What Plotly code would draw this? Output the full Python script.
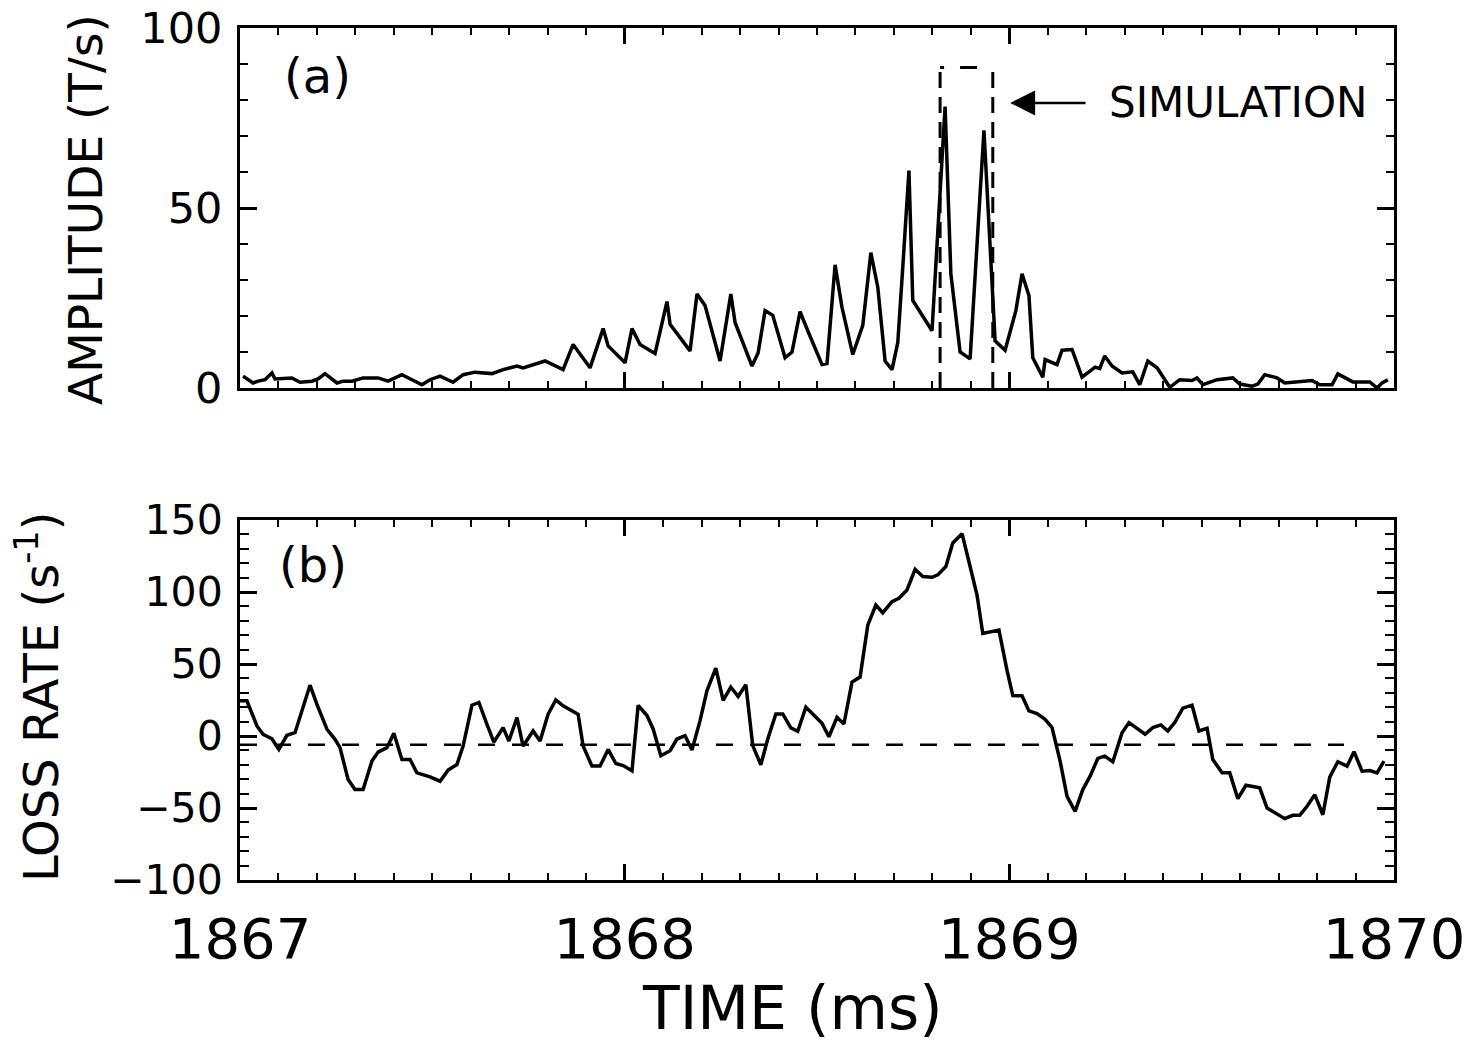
import plotly.graph_objects as go

# ---------------- data ----------------
TIME_A = [1867.008, 1867.034, 1867.047, 1867.065, 1867.083, 1867.091, 1867.135, 1867.156,
          1867.187, 1867.203, 1867.221, 1867.252, 1867.268, 1867.291, 1867.320, 1867.359,
          1867.385, 1867.421, 1867.447, 1867.473, 1867.494, 1867.520, 1867.554, 1867.580,
          1867.611, 1867.655, 1867.684, 1867.720, 1867.736, 1867.762, 1867.793, 1867.840,
          1867.866, 1867.910, 1867.944, 1867.957, 1868.001, 1868.019, 1868.040, 1868.079,
          1868.110, 1868.118, 1868.170, 1868.188, 1868.209, 1868.248, 1868.276, 1868.287,
          1868.331, 1868.347, 1868.365, 1868.385, 1868.417, 1868.435, 1868.456, 1868.476,
          1868.513, 1868.526, 1868.547, 1868.565, 1868.593, 1868.619, 1868.640, 1868.658,
          1868.677, 1868.695, 1868.710, 1868.723, 1868.739, 1868.749, 1868.799, 1868.833,
          1868.848, 1868.872, 1868.898, 1868.934, 1868.963, 1868.989, 1869.017, 1869.033,
          1869.051, 1869.061, 1869.087, 1869.093, 1869.124, 1869.137, 1869.163, 1869.189,
          1869.223, 1869.235, 1869.248, 1869.267, 1869.293, 1869.321, 1869.339, 1869.360,
          1869.384, 1869.417, 1869.443, 1869.475, 1869.488, 1869.503, 1869.540, 1869.581,
          1869.599, 1869.631, 1869.646, 1869.664, 1869.696, 1869.716, 1869.755, 1869.787,
          1869.807, 1869.839, 1869.854, 1869.893, 1869.937, 1869.956, 1869.969, 1869.984]
AMP_A = [3.3, 1.4, 1.9, 2.3, 4.2, 2.5, 2.8, 1.6,
         1.9, 2.5, 4.0, 1.4, 1.9, 1.9, 2.8, 2.8,
         1.9, 3.7, 2.3, 0.9, 2.3, 3.3, 1.6, 3.7,
         4.4, 4.0, 5.1, 6.1, 5.6, 6.5, 7.5, 5.1,
         12.1, 5.6, 16.5, 11.7, 7.0, 16.5, 12.1, 9.6,
         24.0, 17.7, 10.3, 26.1, 22.9, 7.5, 26.1, 18.2,
         6.1, 9.8, 21.5, 20.2, 8.4, 10.0, 21.2, 15.9,
         6.5, 6.8, 34.2, 22.4, 9.3, 17.4, 37.6, 28.0,
         7.5, 5.1, 12.6, 33.6, 60.4, 24.3, 15.9, 78.2,
         31.7, 10.0, 8.1, 71.6, 13.1, 10.5, 21.5, 31.7,
         25.7, 8.4, 3.0, 7.9, 6.5, 10.5, 10.7, 3.0,
         5.8, 5.4, 8.9, 6.1, 4.2, 4.5, 0.9, 7.5,
         5.6, 0.2, 2.3, 2.1, 2.8, 0.9, 2.3, 2.8,
         1.1, 0.5, 1.1, 3.7, 2.8, 1.4, 1.9, 2.1,
         0.9, 0.9, 3.9, 1.7, 1.7, 0.0, 1.4, 2.3]

TIME_B = [1867.000, 1867.018, 1867.044, 1867.060, 1867.083, 1867.101, 1867.122, 1867.143,
          1867.182, 1867.200, 1867.226, 1867.247, 1867.260, 1867.281, 1867.299, 1867.320,
          1867.343, 1867.359, 1867.382, 1867.400, 1867.421, 1867.442, 1867.460, 1867.494,
          1867.520, 1867.541, 1867.564, 1867.580, 1867.603, 1867.621, 1867.642, 1867.660,
          1867.684, 1867.699, 1867.720, 1867.736, 1867.762, 1867.780, 1867.801, 1867.821,
          1867.840, 1867.879, 1867.892, 1867.915, 1867.936, 1867.957, 1867.977, 1867.996,
          1868.019, 1868.035, 1868.058, 1868.074, 1868.094, 1868.118, 1868.136, 1868.157,
          1868.175, 1868.196, 1868.214, 1868.237, 1868.256, 1868.276, 1868.295, 1868.315,
          1868.333, 1868.354, 1868.372, 1868.393, 1868.411, 1868.432, 1868.450, 1868.471,
          1868.489, 1868.513, 1868.531, 1868.552, 1868.570, 1868.591, 1868.612, 1868.632,
          1868.653, 1868.671, 1868.695, 1868.713, 1868.734, 1868.755, 1868.775, 1868.799,
          1868.814, 1868.835, 1868.853, 1868.877, 1868.898, 1868.916, 1868.931, 1868.952,
          1868.973, 1868.994, 1869.009, 1869.033, 1869.051, 1869.072, 1869.093, 1869.111,
          1869.132, 1869.150, 1869.171, 1869.191, 1869.210, 1869.230, 1869.248, 1869.269,
          1869.293, 1869.311, 1869.332, 1869.353, 1869.373, 1869.394, 1869.412, 1869.430,
          1869.451, 1869.475, 1869.493, 1869.514, 1869.529, 1869.553, 1869.573, 1869.594,
          1869.615, 1869.651, 1869.670, 1869.696, 1869.716, 1869.737, 1869.755, 1869.774,
          1869.794, 1869.815, 1869.833, 1869.854, 1869.878, 1869.896, 1869.917, 1869.937,
          1869.956, 1869.974]
LOSS_B = [24.4, 24.4, 7.0, 1.2, -1.9, -9.3, 0.5, 2.3,
          35.3, 22.0, 4.7, -2.3, -8.1, -30.2, -37.2, -37.2,
          -17.4, -11.2, -8.1, 1.9, -16.3, -16.3, -25.6, -28.4,
          -31.4, -23.7, -19.8, -7.0, 21.4, 23.3, 8.1, -4.2,
          5.8, -3.5, 12.8, -7.0, 3.5, -3.5, 15.1, 25.1,
          20.9, 15.1, -7.0, -20.9, -20.9, -9.3, -19.1, -20.5,
          -24.2, 21.2, 14.2, 4.9, -13.7, -10.2, -2.1, 0.2,
          -9.8, 10.7, 31.6, 47.2, 24.7, 34.0, 27.4, 35.6,
          -6.7, -20.0, -2.1, 15.3, 15.3, 5.6, 3.3, 20.0,
          15.3, 8.8, -0.5, 13.0, 8.4, 37.4, 40.9, 77.0,
          90.9, 85.6, 93.3, 95.6, 101.4, 115.8, 110.7, 110.2,
          111.9, 117.7, 134.0, 140.5, 117.7, 97.9, 71.2, 72.3,
          73.5, 45.6, 28.1, 27.9, 17.4, 15.6, 11.6, 5.8,
          -17.4, -41.9, -52.3, -37.2, -27.9, -15.6, -14.0, -17.9,
          2.3, 9.3, 5.3, 1.2, 5.8, 7.7, 3.5, 9.3,
          19.3, 21.4, 3.5, 5.3, -16.3, -25.6, -25.6, -43.5,
          -34.2, -36.0, -50.0, -54.2, -57.4, -55.1, -55.1, -48.8,
          -40.7, -54.7, -28.6, -17.9, -20.9, -10.9, -24.4, -24.0,
          -25.6, -17.4]

X_TICKS = [1867, 1868, 1869, 1870]
X_RANGE = [1867, 1870]
Y_RANGE_A = [0, 100]
Y_RANGE_B = [-100, 150]
SIM_START, SIM_END, SIM_TOP = 1868.820, 1868.957, 89.0
ARROW_TIP, ARROW_TAIL, ARROW_Y = 1869.002, 1869.202, 79.2
LABEL_X = 1869.254
DASH_LEVEL = -6.0
DASH_END = 1869.87

# ---------------- layout geometry (px) ----------------
W, H = 1464, 1050
ML, MR, MT, MB = 240, 70, 28, 170
PW, PH = W - ML - MR, H - MT - MB


def px_x(p):
    return (p - ML) / PW


def px_y(p):
    return (H - MB - p) / PH


FONT = "DejaVu Sans, Liberation Sans, Arial, sans-serif"
BLACK = "black"

fig = go.Figure()
fig.add_trace(go.Scatter(x=TIME_A, y=AMP_A, mode="lines", xaxis="x", yaxis="y",
                         line=dict(color=BLACK, width=3.5), showlegend=False,
                         hoverinfo="skip"))
fig.add_trace(go.Scatter(x=TIME_B, y=LOSS_B, mode="lines", xaxis="x2", yaxis="y2",
                         line=dict(color=BLACK, width=3.5), showlegend=False,
                         hoverinfo="skip"))

common_x = dict(range=X_RANGE, tickmode="array", tickvals=X_TICKS, automargin=False,
                ticks="inside", ticklen=16, tickwidth=2.5, tickcolor=BLACK,
                showline=True, linewidth=3, linecolor=BLACK, mirror="allticks",
                showgrid=False, zeroline=False,
                minor=dict(dtick=0.1, tick0=1867, ticks="inside", ticklen=7,
                           tickwidth=2, tickcolor=BLACK, showgrid=False))

fig.update_layout(
    width=W, height=H,
    margin=dict(l=ML, r=MR, t=MT, b=MB, autoexpand=False),
    paper_bgcolor="white", plot_bgcolor="white",
    font=dict(family=FONT, color=BLACK),
    xaxis=dict(domain=[0, 1], anchor="y", showticklabels=False, **common_x),
    yaxis=dict(domain=[px_y(388), 1], anchor="x", range=Y_RANGE_A, automargin=False,
               tickmode="linear", tick0=0, dtick=50,
               ticks="inside", ticklen=17, tickwidth=2.5, tickcolor=BLACK,
               showline=True, linewidth=3, linecolor=BLACK, mirror="allticks",
               showgrid=False, zeroline=False,
               tickfont=dict(size=43, family=FONT), ticklabelstandoff=6,
               minor=dict(dtick=10, tick0=0, ticks="inside", ticklen=8,
                          tickwidth=2, tickcolor=BLACK, showgrid=False)),
    xaxis2=dict(domain=[0, 1], anchor="y2", showticklabels=True,
                tickfont=dict(size=56, family=FONT), ticklabelstandoff=8,
                ticklabeloverflow="allow", **common_x),
    yaxis2=dict(domain=[0, px_y(520)], anchor="x2", range=Y_RANGE_B, automargin=False,
                tickmode="linear", tick0=0, dtick=50,
                ticks="inside", ticklen=17, tickwidth=2.5, tickcolor=BLACK,
                showline=True, linewidth=3, linecolor=BLACK, mirror="allticks",
                showgrid=False, zeroline=False,
                tickfont=dict(size=41, family=FONT), ticklabelstandoff=6,
                minor=dict(dtick=10, tick0=0, ticks="inside", ticklen=9,
                           tickwidth=2, tickcolor=BLACK, showgrid=False)),
)

# dashed simulation window (top panel)
box_line = dict(color=BLACK, width=3, dash="16px,9px")
fig.add_shape(type="line", xref="x", yref="y", x0=SIM_START, x1=SIM_START,
              y0=Y_RANGE_A[0], y1=SIM_TOP, line=box_line)
fig.add_shape(type="line", xref="x", yref="y", x0=SIM_END, x1=SIM_END,
              y0=Y_RANGE_A[0], y1=SIM_TOP, line=box_line)
fig.add_shape(type="line", xref="x", yref="y", x0=SIM_START, x1=SIM_END,
              y0=SIM_TOP, y1=SIM_TOP, line=dict(color=BLACK, width=3, dash="4px,16px,17px,18px"))

# dashed reference line (bottom panel)
fig.add_shape(type="line", xref="x2", yref="y2", x0=X_RANGE[0], x1=DASH_END,
              y0=DASH_LEVEL, y1=DASH_LEVEL,
              line=dict(color=BLACK, width=2.5, dash="17px,17px"))

# arrow + SIMULATION label
fig.add_annotation(x=ARROW_TIP, y=ARROW_Y, ax=ARROW_TAIL, ay=ARROW_Y,
                   xref="x", yref="y", axref="x", ayref="y", text="",
                   showarrow=True, arrowhead=2, arrowsize=2.0, arrowwidth=2.5,
                   arrowcolor=BLACK, standoff=0, startstandoff=0)
fig.add_annotation(x=LABEL_X, y=ARROW_Y, xref="x", yref="y", text="SIMULATION",
                   showarrow=False, xanchor="left", yanchor="middle",
                   font=dict(size=42, family=FONT, color=BLACK))

# panel labels
fig.add_annotation(x=px_x(317), y=px_y(76), xref="paper", yref="paper", text="(a)",
                   showarrow=False, xanchor="center", yanchor="middle",
                   font=dict(size=48, family=FONT, color=BLACK))
fig.add_annotation(x=px_x(313), y=px_y(565), xref="paper", yref="paper", text="(b)",
                   showarrow=False, xanchor="center", yanchor="middle",
                   font=dict(size=48, family=FONT, color=BLACK))

# axis titles
fig.add_annotation(x=px_x(86), y=px_y(210), xref="paper", yref="paper",
                   text="AMPLITUDE (T/s)", textangle=-90, showarrow=False,
                   xanchor="center", yanchor="middle",
                   font=dict(size=47, family=FONT, color=BLACK))
fig.add_annotation(x=px_x(38), y=px_y(697), xref="paper", yref="paper",
                   text="LOSS RATE (s<sup>-1</sup>)", textangle=-90, showarrow=False,
                   xanchor="center", yanchor="middle",
                   font=dict(size=48, family=FONT, color=BLACK))
fig.add_annotation(x=px_x(792), y=px_y(1008), xref="paper", yref="paper",
                   text="TIME (ms)", showarrow=False,
                   xanchor="center", yanchor="middle",
                   font=dict(size=60, family=FONT, color=BLACK))

fig.write_html("out.html", config={"displayModeBar": False},
               post_script="document.body.style.margin='0';document.body.style.overflow='hidden';")
